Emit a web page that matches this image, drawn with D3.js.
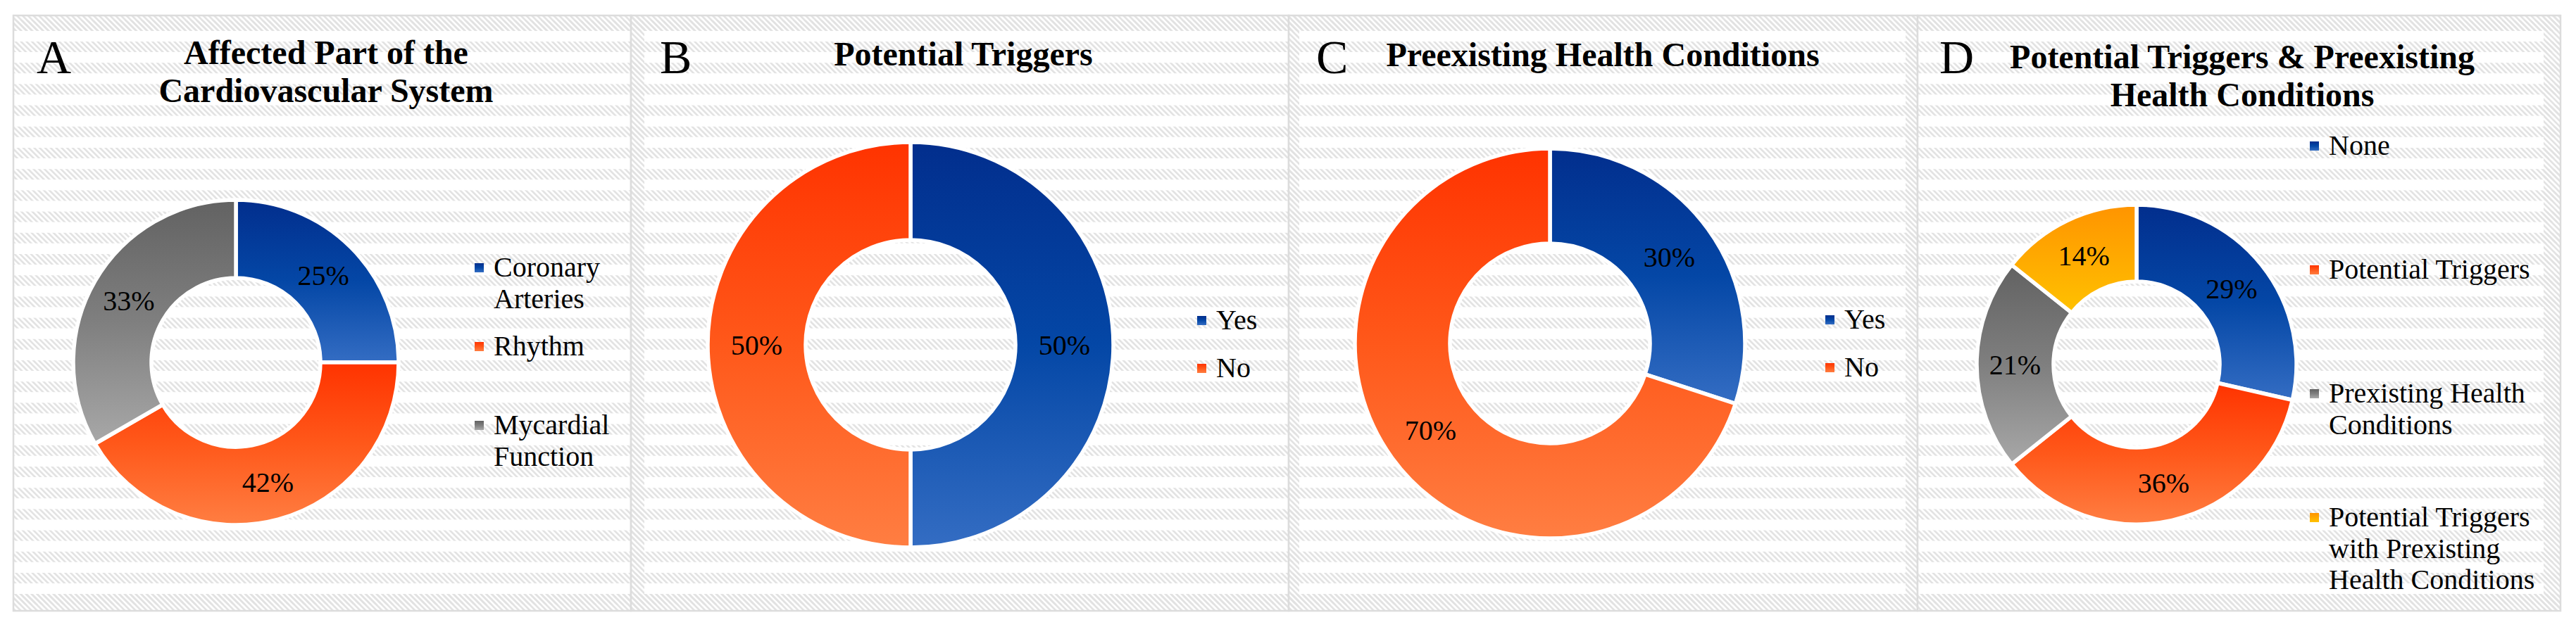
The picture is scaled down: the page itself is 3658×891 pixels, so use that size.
<!DOCTYPE html>
<html><head><meta charset="utf-8">
<script src="https://cdn.jsdelivr.net/npm/d3@7"></script>
<style>
body{margin:0;background:#fff;}
svg{display:block;}
</style>
</head><body>
<svg id="chart" width="3658" height="891" font-family="'Liberation Serif', 'Times New Roman', Times, serif"></svg>
<script>
// ---------- data ----------
const panelLetters = ["A", "B", "C", "D"];
const panelTitles = [
  ["Affected Part of the", "Cardiovascular System"],
  ["Potential Triggers"],
  ["Preexisting Health Conditions"],
  ["Potential Triggers & Preexisting", "Health Conditions"]
];
const categoriesA = ["Coronary Arteries", "Rhythm", "Mycardial Function"];
const valuesA = [3, 5, 4];
const categoriesB = ["Yes", "No"];
const valuesB = [1, 1];
const categoriesC = ["Yes", "No"];
const valuesC = [3, 7];
const categoriesD = ["None", "Potential Triggers", "Prexisting Health Conditions",
  "Potential Triggers with Prexisting Health Conditions"];
const valuesD = [4, 5, 3, 2];
const colorKeysA = ["blue", "orange", "gray"];
const colorKeysB = ["blue", "orange"];
const colorKeysC = ["blue", "orange"];
const colorKeysD = ["blue", "orange", "gray", "amber"];

// ---------- styles / layout ----------
const FONT = "'Liberation Serif', 'Times New Roman', Times, serif";
const gradientStops = {
  blue:   ["#022e8d", "#0447a6", "#346dc3"],
  orange: ["#ff3300", "#ff581a", "#ff7e42"],
  gray:   ["#626262", "#7f7f7f", "#a8a8a8"],
  amber:  ["#ff9400", "#ffaa00", "#ffc200"]
};
const layout = [
  {x0: 19,   x1: 896,  cx: 335,  cy: 515, R: 231, r: 120, letterX: 52,   legX: 674,  legY: 393, legStep: 112, wrap: 185, titleY: 91,  titleX: 463,  vl: 0,  vr: 0},
  {x0: 896,  x1: 1830, cx: 1293, cy: 490, R: 288, r: 149, letterX: 937,  legX: 1700, legY: 468, legStep: 68,  wrap: 110, titleY: 93,  titleX: 1368, vl: 19, vr: 0},
  {x0: 1830, x1: 2723, cx: 2201, cy: 488, R: 277, r: 142, letterX: 1869, legX: 2592, legY: 467, legStep: 68,  wrap: 110, titleY: 94,  titleX: 2276, vl: 15, vr: 17},
  {x0: 2723, x1: 3636, cx: 3034, cy: 518, R: 227, r: 118, letterX: 2754, legX: 3280, legY: 220, legStep: 176, wrap: 305, titleY: 97,  titleX: 3184, vl: 0,  vr: 24}
];
const panels = [
  {cats: categoriesA, vals: valuesA, cols: colorKeysA},
  {cats: categoriesB, vals: valuesB, cols: colorKeysB},
  {cats: categoriesC, vals: valuesC, cols: colorKeysC},
  {cats: categoriesD, vals: valuesD, cols: colorKeysD}
];
const panelTop = 22, panelBottom = 868;

const svg = d3.select("#chart");
const defs = svg.append("defs");

// hatch pattern
const pat = defs.append("pattern").attr("id", "hatch")
  .attr("patternUnits", "userSpaceOnUse").attr("width", 5.5).attr("height", 5.5)
  .attr("patternTransform", "rotate(-45)");
pat.append("rect").attr("width", 2.6).attr("height", 5.5).attr("fill", "#e2e2e2");

// gradients
Object.entries(gradientStops).forEach(([k, stops]) => {
  const g = defs.append("linearGradient").attr("id", "grad-" + k)
    .attr("x1", 0).attr("y1", 0).attr("x2", 0).attr("y2", 1);
  stops.forEach((c, i) => g.append("stop")
    .attr("offset", (i / (stops.length - 1) * 100) + "%").attr("stop-color", c));
});

function wrapLines(textSel, str, maxW) {
  const words = str.split(" ");
  const lines = [];
  let cur = "";
  const probe = textSel.append("tspan");
  words.forEach(w => {
    const test = cur ? cur + " " + w : w;
    probe.text(test);
    if (probe.node().getComputedTextLength() > maxW && cur) {
      lines.push(cur); cur = w;
    } else cur = test;
  });
  if (cur) lines.push(cur);
  probe.remove();
  return lines;
}

layout.forEach((L, i) => {
  const P = panels[i];
  const g = svg.append("g");
  const w = L.x1 - L.x0;
  // background
  g.append("rect").attr("x", L.x0).attr("y", panelTop).attr("width", w)
    .attr("height", panelBottom - panelTop).attr("fill", "#fff");
  const clipId = "clip" + i;
  defs.append("clipPath").attr("id", clipId).append("rect")
    .attr("x", L.x0).attr("y", panelTop).attr("width", w).attr("height", panelBottom - panelTop);
  const bg = g.append("g").attr("clip-path", `url(#${clipId})`);
  const bandYs = d3.range(0, 28).map(k => 28.8 + 30.2 * k);
  bg.selectAll("rect.band").data(bandYs).join("rect").attr("class", "band")
    .attr("x", L.x0).attr("y", d => d).attr("width", w).attr("height", 15)
    .attr("fill", "url(#hatch)");
  bg.append("rect").attr("x", L.x0).attr("y", panelTop).attr("width", w).attr("height", 22).attr("fill", "url(#hatch)");
  bg.append("rect").attr("x", L.x0).attr("y", panelBottom - 24).attr("width", w).attr("height", 24).attr("fill", "url(#hatch)");
  if (L.vl) bg.append("rect").attr("x", L.x0).attr("y", panelTop).attr("width", L.vl).attr("height", panelBottom - panelTop).attr("fill", "url(#hatch)");
  if (L.vr) bg.append("rect").attr("x", L.x1 - L.vr).attr("y", panelTop).attr("width", L.vr).attr("height", panelBottom - panelTop).attr("fill", "url(#hatch)");
  g.append("rect").attr("x", L.x0).attr("y", panelTop).attr("width", w)
    .attr("height", panelBottom - panelTop).attr("fill", "none")
    .attr("stroke", "#dcdcdc").attr("stroke-width", 2.5);

  // letter
  g.append("text").attr("x", L.letterX).attr("y", 104)
    .attr("font-family", FONT).attr("font-size", 68).attr("fill", "#000").text(panelLetters[i]);
  // title
  const t = g.append("text").attr("text-anchor", "middle").attr("font-family", FONT)
    .attr("font-size", 48).attr("font-weight", "bold").attr("fill", "#000");
  panelTitles[i].forEach((line, j) => t.append("tspan")
    .attr("x", L.titleX).attr("y", L.titleY + j * 54).text(line));

  // donut
  const total = d3.sum(P.vals);
  const pie = d3.pie().sort(null).value(d => d.v);
  const arcs = pie(P.vals.map((v, k) => ({v, c: P.cols[k], name: P.cats[k]})));
  const arc = d3.arc().innerRadius(L.r).outerRadius(L.R);
  const dg = g.append("g").attr("transform", `translate(${L.cx},${L.cy})`);
  dg.selectAll("path").data(arcs).join("path")
    .attr("d", arc)
    .attr("fill", d => `url(#grad-${d.data.c})`)
    .attr("stroke", "#fff").attr("stroke-width", 5.5).attr("stroke-linejoin", "round");
  dg.selectAll("text").data(arcs).join("text")
    .attr("transform", d => `translate(${arc.centroid(d)})`)
    .attr("text-anchor", "middle").attr("dy", "0.35em")
    .attr("font-family", FONT).attr("font-size", 40).attr("fill", "#000")
    .text(d => Math.round(d.data.v / total * 100) + "%");

  // legend
  const lg = g.append("g");
  P.cats.forEach((name, k) => {
    const by = L.legY + k * L.legStep;
    lg.append("rect").attr("x", L.legX).attr("y", by - 19).attr("width", 13).attr("height", 13)
      .attr("fill", `url(#grad-${P.cols[k]})`);
    const tx = lg.append("text").attr("font-family", FONT).attr("font-size", 40).attr("fill", "#000");
    const lines = wrapLines(tx, name, L.wrap);
    lines.forEach((ln, j) => tx.append("tspan")
      .attr("x", L.legX + 27).attr("y", by + j * 44.5).text(ln));
  });
});
</script>
</body></html>
